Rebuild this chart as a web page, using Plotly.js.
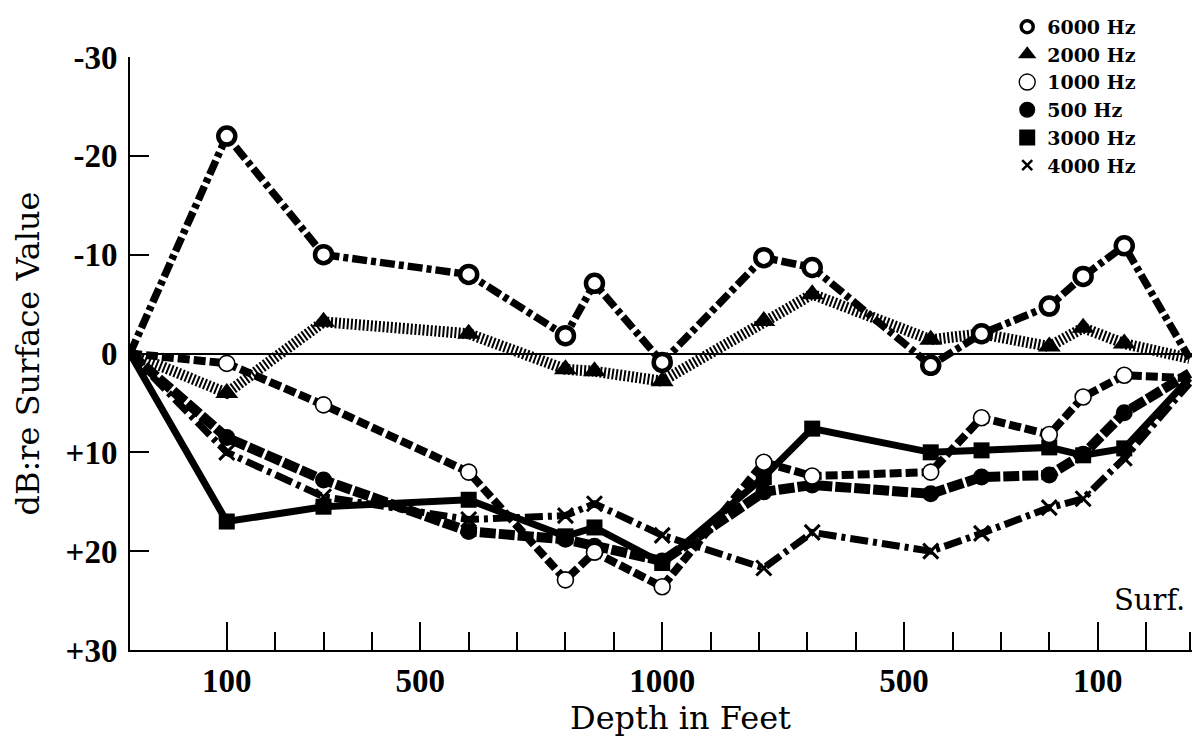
<!DOCTYPE html>
<html>
<head>
<meta charset="utf-8">
<script src="https://cdn.plot.ly/plotly-3.0.1.min.js"></script>
<style>html,body{margin:0;padding:0;background:#fff;}#chart{width:1196px;height:747px;}</style>
</head>
<body>
<div id="chart"></div>
<script>
// Station positions along the x axis (tick units: surface -> 1000 ft -> surface)
const stationPos = [0, 2, 4, 7, 9, 9.6, 11, 13.1, 14.1, 16.55, 17.6, 19, 19.7, 20.55, 21.9];

// dB re surface value (negative = above surface value, drawn upward)
const hz6000 = [0, -22, -10, -8, -1.8, -7.1, 0.9, -9.7, -8.7, 1.2, -2, -4.8, -7.8, -10.9, 0.5];
const hz2000 = [0, 4, -3.2, -2, 1.6, 1.8, 2.8, -3.3, -6, -1.4, -2, -0.7, -2.6, -1, 0.5];
const hz1000 = [0, 1, 5.2, 12, 22.9, 20.1, 23.6, 11, 12.4, 12, 6.5, 8.2, 4.4, 2.2, 2.5];
const hz500  = [0, 8.5, 12.8, 18, 18.8, 19.5, 21, 14, 13.3, 14.2, 12.5, 12.3, 10.2, 6, 2];
const hz3000 = [0, 17, 15.5, 14.8, 18.5, 17.6, 21.2, 12.5, 7.6, 10, 9.8, 9.5, 10.3, 9.6, 2.5];
const hz4000 = [0, 10, 14.5, 16.8, 16.4, 15.2, 18.4, 21.7, 18.1, 20, 18.2, 15.6, 14.7, 10.6, 3];

// Axis ticks
const majorTickPos = [2, 6, 11, 16, 20, 21];
const majorTickText = ['100', '500', '1000', '500', '100', ''];
const minorTickPos = [3, 4, 5, 7, 8, 9, 10, 12, 13, 14, 15, 17, 18, 19, 21.9];
const yTickVals = [-30, -20, -10, 0, 10, 20, 30];
const yTickText = ['-30', '-20', '-10', '0', '+10', '+20', '+30'];

const seriesNames = ['6000 Hz', '2000 Hz', '1000 Hz', '500 Hz', '3000 Hz', '4000 Hz'];
const seriesValues = [hz6000, hz2000, hz1000, hz500, hz3000, hz4000];

const styles = [
  {dash: '15px,4px,5px,4px', width: 7.5, symbol: 'circle', size: 17, fill: '#fff', lw: 4.5, lsize: 12, llw: 3.5},
  {dash: '2px,2px', width: 11, symbol: 'triangle-up', size: 20, fill: '#000', lw: 0, lsize: 16, llw: 0},
  {dash: '12px,4px', width: 8, symbol: 'circle', size: 16, fill: '#fff', lw: 1.6, lsize: 16, llw: 1.4},
  {dash: '16px,3px', width: 10, symbol: 'circle', size: 17, fill: '#000', lw: 0, lsize: 16, llw: 0},
  {dash: 'solid', width: 7, symbol: 'square', size: 16, fill: '#000', lw: 0, lsize: 16, llw: 0},
  {dash: '18px,5px,4px,5px', width: 7, symbol: 'x-thin-open', size: 15, fill: '#000', lw: 3, lsize: 10, llw: 2.5}
];

const drawOrder = [4, 3, 2, 5, 1, 0];
const traces = [];
drawOrder.forEach(i => {
  const s = styles[i];
  const sizes = stationPos.map((p, k) => (k === 0 || k === stationPos.length - 1) ? 0 : s.size);
  traces.push({
    type: 'scatter', mode: 'lines+markers',
    x: stationPos, y: seriesValues[i], name: seriesNames[i], showlegend: false,
    cliponaxis: false,
    line: {color: '#000', width: s.width, dash: s.dash},
    marker: {symbol: s.symbol, size: sizes, color: s.fill, opacity: 1,
             line: {color: '#000', width: s.lw}}
  });
});
// legend-only marker traces
seriesNames.forEach((n, i) => {
  const s = styles[i];
  traces.push({
    type: 'scatter', mode: 'markers', x: [null], y: [null], name: n, showlegend: true,
    marker: {symbol: s.symbol, size: s.lsize, color: s.fill, opacity: 1, line: {color: '#000', width: s.llw}}
  });
});

const tickFont = {family: 'Liberation Serif', size: 33, color: '#000', weight: 'bold'};
const titleFont = {family: 'DejaVu Serif', size: 32, color: '#000'};

const layout = {
  width: 1196, height: 747,
  margin: {l: 130, r: 4, t: 57, b: 97},
  paper_bgcolor: '#fff', plot_bgcolor: '#fff',
  showlegend: true,
  legend: {x: 0.826, y: 1.083, xanchor: 'left', yanchor: 'top', bgcolor: 'rgba(0,0,0,0)',
           font: {family: 'DejaVu Serif', size: 19, color: '#000', weight: 'bold'},
           itemwidth: 30, traceorder: 'normal'},
  xaxis: {
    range: [0, 21.95], showgrid: false, zeroline: false,
    showline: true, linecolor: '#000', linewidth: 2,
    tickmode: 'array', tickvals: majorTickPos, ticktext: majorTickText,
    ticks: 'inside', ticklen: 28, tickwidth: 2, tickcolor: '#000',
    minor: {tickmode: 'array', tickvals: minorTickPos, ticks: 'inside', ticklen: 18, tickwidth: 2, tickcolor: '#000', showgrid: false},
    tickfont: tickFont,
    title: {text: ''}
  },
  yaxis: {
    range: [30, -30], showgrid: false,
    zeroline: true, zerolinecolor: '#000', zerolinewidth: 2,
    showline: true, linecolor: '#000', linewidth: 2,
    tickmode: 'array', tickvals: yTickVals, ticktext: yTickText,
    ticks: 'inside', ticklen: 19, tickwidth: 2, tickcolor: '#000',
    tickfont: tickFont, ticklabelstandoff: 4,
    title: {text: 'dB:re Surface Value', font: titleFont, standoff: 16}
  },
  annotations: [
    {text: 'Depth in Feet', xref: 'paper', yref: 'paper', x: (680 - 130) / 1062, y: -(718 - 650) / 593,
     xanchor: 'center', yanchor: 'middle', showarrow: false, font: titleFont},
    {text: 'Surf.', xref: 'paper', yref: 'paper', x: 0.995, y: 0.084, xanchor: 'right', yanchor: 'middle',
     showarrow: false, font: {family: 'DejaVu Serif', size: 29, color: '#000'}}
  ]
};

Plotly.newPlot('chart', traces, layout, {displayModeBar: false, staticPlot: true});
</script>
</body>
</html>
